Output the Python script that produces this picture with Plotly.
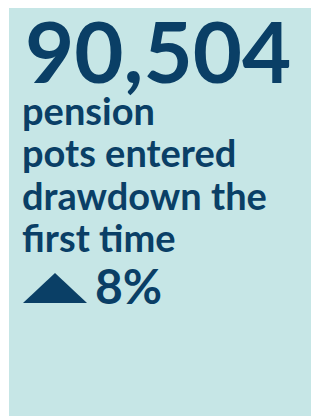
import plotly.graph_objects as go

headline_value = "90,504"
label_lines = ["pension", "pots entered", "drawdown the", "first time"]
change_pct = 8

W, H = 319, 416
navy = "#0a3f66"
panel = "#c6e6e6"
font_family = "Lato"

fig = go.Figure()
fig.add_trace(go.Scatter(x=[0, W], y=[0, H], mode="markers", marker=dict(opacity=0), hoverinfo="skip", showlegend=False))

fig.add_shape(type="rect", xref="x", yref="y", x0=1, x1=W, y0=0, y1=H, fillcolor=panel, line=dict(width=0), layer="below")

fig.add_annotation(x=15, y=42, xref="x", yref="y", text="<b>%s</b>" % headline_value, showarrow=False,
                   xanchor="left", yanchor="middle", font=dict(family=font_family, size=85, color=navy))

baselines = [115, 157, 200, 242]
for line, b in zip(label_lines, baselines):
    fig.add_annotation(x=12, y=b - 13, xref="x", yref="y", text="<b>%s</b>" % line, showarrow=False,
                       xanchor="left", yanchor="middle", font=dict(family=font_family, size=38, color=navy))

# triangle icon
fig.add_shape(type="path", xref="x", yref="y", path="M 15 295 L 47 265 L 79 295 Z", fillcolor=navy, line=dict(width=0))
fig.add_annotation(x=85, y=277, xref="x", yref="y", text="<b>%d%%</b>" % change_pct, showarrow=False,
                   xanchor="left", yanchor="middle", font=dict(family=font_family, size=48, color=navy))

fig.update_layout(width=W, height=H, margin=dict(l=0, r=0, t=0, b=0), paper_bgcolor="white", plot_bgcolor="white",
                  xaxis=dict(range=[0, W], visible=False, fixedrange=True),
                  yaxis=dict(range=[H, 0], visible=False, fixedrange=True), showlegend=False)
fig.write_html("out.html", config={"displayModeBar": False})
